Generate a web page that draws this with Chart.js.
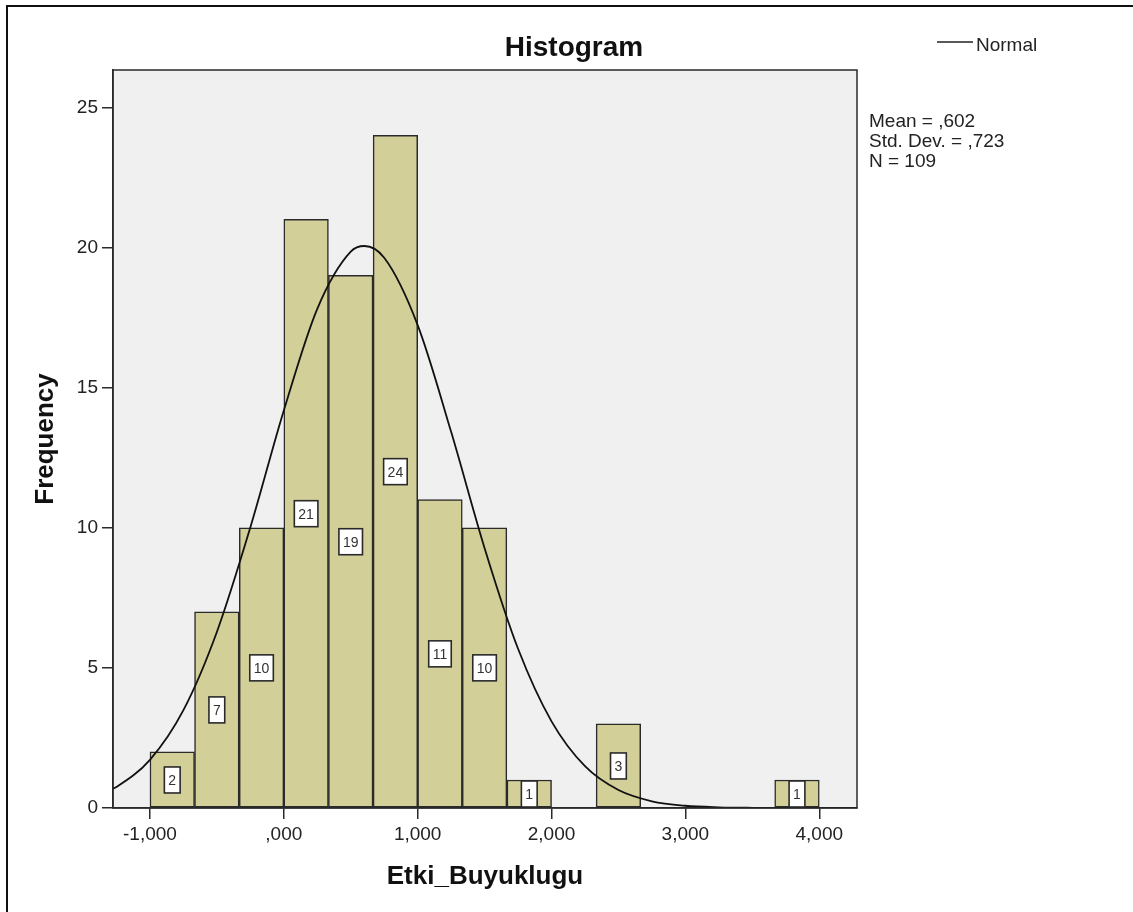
<!DOCTYPE html>
<html>
<head>
<meta charset="utf-8">
<script src="https://cdn.jsdelivr.net/npm/chart.js@4/dist/chart.umd.min.js"></script>
<style>
  html, body { margin: 0; padding: 0; background: #fff; }
  #wrap { width: 1133px; height: 912px; }
</style>
</head>
<body>
<div id="wrap"><canvas id="hist" width="1133" height="912"></canvas></div>
<script>
// histogram bins (lower edge) and their counts
const binLow = [-1.000, -0.667, -0.333, 0.000, 0.333, 0.667, 1.000, 1.333, 1.667, 2.000, 2.333, 2.667, 3.000, 3.333, 3.667];
const binWidth = 1 / 3;
const counts = [2, 7, 10, 21, 19, 24, 11, 10, 1, 0, 3, 0, 0, 0, 1];

// normal curve
const normalX = [-1.276, -1.25, -1.0, -0.75, -0.5, -0.25, 0.0, 0.25, 0.5, 0.602, 0.75, 1.0, 1.25, 1.5, 1.75, 2.0, 2.25, 2.5, 2.75, 3.0, 3.25, 3.5, 3.75, 4.0, 4.282];
const normalY = [0.69, 0.75, 1.72, 3.49, 6.28, 10.01, 14.18, 17.81, 19.85, 20.05, 19.63, 17.23, 13.42, 9.27, 5.68, 3.09, 1.49, 0.64, 0.24, 0.08, 0.025, 0.007, 0.002, 0.0, 0.0];

// axes
const xTickValues = [-1, 0, 1, 2, 3, 4];
const xTickLabels = ['-1,000', ',000', '1,000', '2,000', '3,000', '4,000'];
const yTickValues = [0, 5, 10, 15, 20, 25];
const yTickLabels = ['0', '5', '10', '15', '20', '25'];

const statLines = ['Mean = ,602', 'Std. Dev. = ,723', 'N = 109'];

const FONT = '"Liberation Sans", Arial, Helvetica, sans-serif';
const INK = '#2a2a2a';

const barData = binLow.map((lo, i) => ({ x: lo + binWidth / 2, y: counts[i] }));
const curveData = normalX.map((x, i) => ({ x: x, y: normalY[i] }));

const frame = {
  id: 'frame',
  beforeDraw(chart) {
    const { ctx, chartArea: a } = chart;
    ctx.save();
    ctx.fillStyle = '#fff';
    ctx.fillRect(0, 0, chart.width, chart.height);
    ctx.fillStyle = '#f0f0f0';
    ctx.fillRect(a.left, a.top, a.right - a.left, a.bottom - a.top);
    // outer box of the output window
    ctx.strokeStyle = '#111';
    ctx.lineWidth = 2;
    ctx.strokeRect(7, 6, 1400, 1200);
    ctx.restore();
  },
  afterDatasetsDraw(chart) {
    const { ctx, chartArea: a } = chart;
    const yScale = chart.scales.y;
    const meta = chart.getDatasetMeta(1);
    ctx.save();
    ctx.font = '14px ' + FONT;
    ctx.textAlign = 'center';
    ctx.textBaseline = 'middle';
    meta.data.forEach((bar, i) => {
      const v = counts[i];
      if (!v) return;
      const txt = String(v);
      const w = ctx.measureText(txt).width + 8;
      const h = 26;
      const cy = yScale.getPixelForValue(v / 2);
      ctx.fillStyle = '#fff';
      ctx.fillRect(bar.x - w / 2, cy - h / 2, w, h);
      ctx.strokeStyle = INK;
      ctx.lineWidth = 1.6;
      ctx.strokeRect(bar.x - w / 2, cy - h / 2, w, h);
      ctx.fillStyle = '#333';
      ctx.fillText(txt, bar.x, cy + 1);
    });
    // plot frame
    ctx.strokeStyle = INK;
    ctx.lineWidth = 1.5;
    ctx.strokeRect(a.left, a.top, a.right - a.left, a.bottom - a.top);
    ctx.restore();
  },
  afterDraw(chart) {
    const { ctx } = chart;
    ctx.save();
    ctx.fillStyle = '#111';
    ctx.font = 'bold 28px ' + FONT;
    ctx.textAlign = 'center';
    ctx.textBaseline = 'alphabetic';
    ctx.fillText('Histogram', 574, 56);

    // legend
    ctx.strokeStyle = '#222';
    ctx.lineWidth = 1.5;
    ctx.beginPath();
    ctx.moveTo(937, 42);
    ctx.lineTo(973, 42);
    ctx.stroke();
    ctx.font = '19px ' + FONT;
    ctx.textAlign = 'left';
    ctx.fillStyle = '#222';
    ctx.fillText('Normal', 976, 51);

    statLines.forEach((s, i) => ctx.fillText(s, 869, 127 + i * 20));
    ctx.restore();
  }
};

new Chart(document.getElementById('hist'), {
  data: {
    datasets: [
      {
        type: 'line',
        label: 'Normal',
        data: curveData,
        borderColor: '#111',
        borderWidth: 1.8,
        pointRadius: 0,
        fill: false,
        cubicInterpolationMode: 'monotone',
        order: 0
      },
      {
        type: 'bar',
        label: 'Frequency',
        data: barData,
        backgroundColor: '#d3cf99',
        borderColor: INK,
        borderWidth: 1.5,
        borderSkipped: false,
        barPercentage: 1,
        categoryPercentage: 1,
        grouped: false,
        order: 1
      }
    ]
  },
  options: {
    responsive: false,
    animation: false,
    events: [],
    layout: { padding: { left: 20, right: 276, top: 70, bottom: 20 } },
    plugins: {
      legend: { display: false },
      title: { display: false },
      tooltip: { enabled: false }
    },
    scales: {
      x: {
        type: 'linear',
        offset: false,
        min: -1.276,
        max: 4.282,
        afterBuildTicks: s => { s.ticks = xTickValues.map(v => ({ value: v })); },
        afterFit: s => { s.height = 84; },
        ticks: {
          color: '#222',
          font: { family: FONT, size: 19 },
          padding: 4,
          maxRotation: 0,
          callback: (v, i) => xTickLabels[i]
        },
        grid: { offset: false, drawOnChartArea: false, drawTicks: true, tickLength: 11, color: INK, lineWidth: 1.5 },
        border: { display: true, color: INK, width: 1.5 },
        title: {
          display: true,
          text: 'Etki_Buyuklugu',
          color: '#111',
          font: { family: FONT, size: 26, weight: 'bold' },
          padding: { top: 0, bottom: 0 }
        }
      },
      y: {
        type: 'linear',
        min: 0,
        max: 26.33,
        afterBuildTicks: s => { s.ticks = yTickValues.map(v => ({ value: v })); },
        afterFit: s => { s.width = 93; },
        ticks: {
          color: '#222',
          font: { family: FONT, size: 19 },
          padding: 4,
          callback: (v, i) => yTickLabels[i]
        },
        grid: { drawOnChartArea: false, drawTicks: true, tickLength: 11, color: INK, lineWidth: 1.5 },
        border: { display: true, color: INK, width: 1.5 },
        title: {
          display: true,
          text: 'Frequency',
          color: '#111',
          font: { family: FONT, size: 26, weight: 'bold' },
          padding: { top: 10, bottom: 0 }
        }
      }
    }
  },
  plugins: [frame]
});
</script>
</body>
</html>
